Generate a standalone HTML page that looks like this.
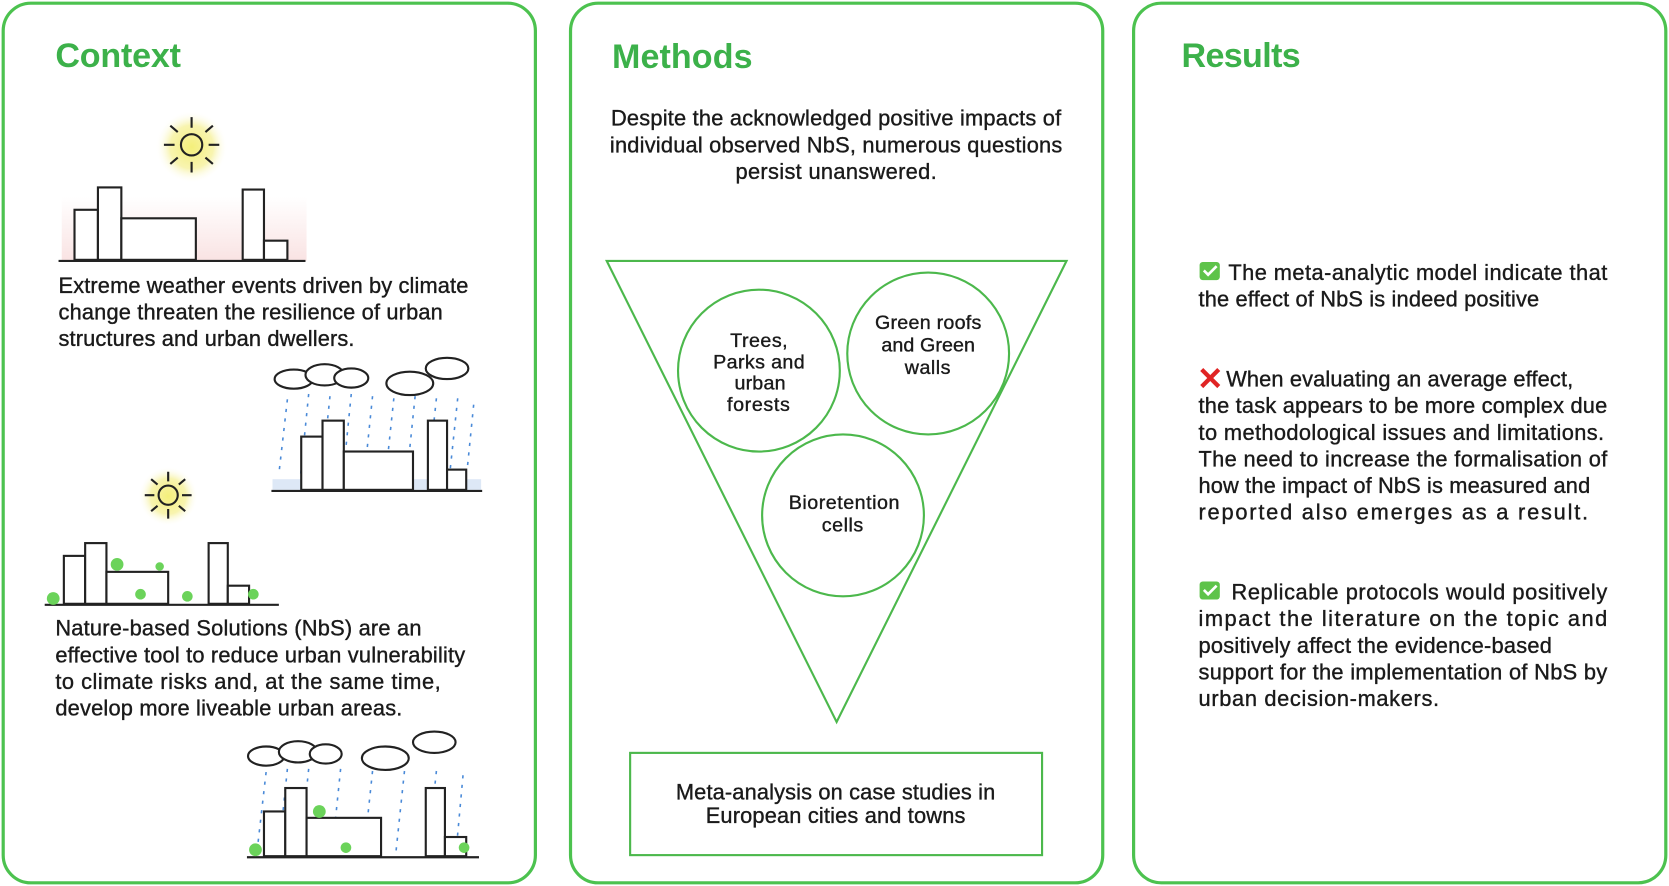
<!DOCTYPE html>
<html><head><meta charset="utf-8"><style>
html,body{margin:0;padding:0;background:#fff;}
svg{display:block;}
text{font-family:"Liberation Sans",Arial,sans-serif;fill:#1a1a1a;stroke:#1a1a1a;stroke-width:0.35;}
.t{font-size:20.5px;}
.h{font-size:32px;fill:#3cb14a;stroke:none;font-weight:bold;}
.c{font-size:18.5px;}
</style></head><body>
<svg width="1669" height="886" viewBox="0 0 1568 832" preserveAspectRatio="none" xmlns="http://www.w3.org/2000/svg">
<defs>
<radialGradient id="sun"><stop offset="0" stop-color="#f4ef7a"/><stop offset="0.6" stop-color="#f8f4b0"/><stop offset="1" stop-color="#fff" stop-opacity="0"/></radialGradient>
<linearGradient id="heat" x1="0" y1="0" x2="0" y2="1"><stop offset="0" stop-color="#fff"/><stop offset="1" stop-color="#f7d7d7"/></linearGradient>
</defs>
<g fill="none" stroke="#4cc24f" stroke-width="3">
<rect x="3" y="3" width="500" height="826" rx="26"/>
<rect x="536" y="3" width="500" height="826" rx="26"/>
<rect x="1065" y="3" width="500" height="826" rx="26"/>
</g>
<text class="h" x="52" y="63" textLength="118">Context</text>
<text class="h" x="575" y="64" textLength="132">Methods</text>
<text class="h" x="1110" y="63" textLength="112">Results</text>

<circle cx="180" cy="138" r="34" fill="url(#sun)"/>
<g stroke="#222" stroke-width="2" fill="none">
<circle cx="180" cy="136" r="10"/>
<path d="M180 110v10M180 152v10M154 136h10M196 136h10M160 118l7 6M200 118l-7 6M160 154l7-6M200 154l-7-6"/>
</g>
<rect x="58" y="185" width="230" height="60" fill="url(#heat)" opacity="0.7"/>
<g stroke="#222" stroke-width="2" fill="#fff">
<rect x="70" y="197" width="22" height="47"/><rect x="92" y="176" width="22" height="68"/>
<rect x="114" y="205" width="70" height="39"/><rect x="228" y="178" width="20" height="66"/><rect x="248" y="226" width="22" height="18"/>
<path d="M55 245h232" fill="none"/>
</g>
<g class="t">
<text x="55" y="275" textLength="385">Extreme weather events driven by climate</text>
<text x="55" y="300" textLength="361">change threaten the resilience of urban</text>
<text x="55" y="325" textLength="278">structures and urban dwellers.</text>
</g>

<g stroke="#222" stroke-width="2" fill="#fff">
<ellipse cx="276" cy="356" rx="18" ry="9"/><ellipse cx="305" cy="352" rx="18" ry="10"/><ellipse cx="330" cy="355" rx="16" ry="9"/>
<ellipse cx="385" cy="360" rx="22" ry="11"/><ellipse cx="420" cy="346" rx="20" ry="10"/>
</g>
<g stroke="#4a8ad8" stroke-width="1.5" stroke-dasharray="3 6">
<path d="M270 375l-8 70M290 370l-8 80M310 372l-8 78M330 370l-8 80M350 372l-8 78M370 374l-8 76M390 372l-8 78M410 374l-8 76M430 374l-8 76M445 380l-6 60"/>
</g>
<rect x="256" y="450" width="196" height="10" fill="#dde8f6"/>
<g stroke="#222" stroke-width="2" fill="#fff">
<rect x="283" y="410" width="20" height="50"/><rect x="303" y="395" width="20" height="65"/><rect x="323" y="424" width="65" height="36"/>
<rect x="402" y="395" width="18" height="65"/><rect x="420" y="441" width="18" height="19"/><path d="M255 461h198" fill="none"/>
</g>

<circle cx="158" cy="466" r="28" fill="url(#sun)"/>
<g stroke="#222" stroke-width="2" fill="none">
<circle cx="158" cy="465" r="9"/><path d="M158 443v9M158 478v9M136 465h9M171 465h9M142 450l6 5M174 450l-6 5M142 480l6-5M174 480l-6-5"/>
</g>
<g stroke="#222" stroke-width="2" fill="#fff">
<rect x="60" y="522" width="20" height="45"/><rect x="80" y="510" width="20" height="57"/><rect x="100" y="537" width="58" height="30"/>
<rect x="196" y="510" width="18" height="57"/><rect x="214" y="550" width="20" height="17"/><path d="M42 568h220" fill="none"/>
</g>
<g fill="#6bd35a"><circle cx="50" cy="562" r="6"/><circle cx="110" cy="530" r="6"/><circle cx="132" cy="558" r="5"/><circle cx="176" cy="560" r="5"/><circle cx="238" cy="558" r="5"/><circle cx="150" cy="532" r="4"/></g>
<g class="t">
<text x="52" y="597" textLength="344">Nature-based Solutions (NbS) are an</text>
<text x="52" y="622" textLength="385">effective tool to reduce urban vulnerability</text>
<text x="52" y="647" textLength="362">to climate risks and, at the same time,</text>
<text x="52" y="672" textLength="326">develop more liveable urban areas.</text>
</g>

<g stroke="#222" stroke-width="2" fill="#fff">
<ellipse cx="250" cy="710" rx="17" ry="9"/><ellipse cx="280" cy="706" rx="18" ry="10"/><ellipse cx="306" cy="708" rx="15" ry="9"/>
<ellipse cx="362" cy="712" rx="22" ry="11"/><ellipse cx="408" cy="697" rx="20" ry="10"/>
</g>
<g stroke="#4a8ad8" stroke-width="1.5" stroke-dasharray="3 6">
<path d="M250 725l-8 70M270 722l-8 78M290 722l-8 78M320 722l-8 78M350 724l-8 76M380 724l-8 76M410 724l-8 76M435 728l-6 66"/>
</g>
<g stroke="#222" stroke-width="2" fill="#fff">
<rect x="248" y="762" width="20" height="42"/><rect x="268" y="740" width="20" height="64"/><rect x="288" y="768" width="70" height="36"/>
<rect x="400" y="740" width="18" height="64"/><rect x="418" y="786" width="20" height="18"/><path d="M232 805h218" fill="none"/>
</g>
<g fill="#6bd35a"><circle cx="240" cy="798" r="6"/><circle cx="300" cy="762" r="6"/><circle cx="325" cy="796" r="5"/><circle cx="436" cy="796" r="5"/></g>

<g class="t">
<text x="574" y="118" textLength="423">Despite the acknowledged positive impacts of</text>
<text x="573" y="143" textLength="425">individual observed NbS, numerous questions</text>
<text x="691" y="168" textLength="189">persist unanswered.</text>
</g>
<g fill="none" stroke="#4cb84c" stroke-width="2">
<path d="M570 245H1002L786 678Z"/>
<circle cx="713" cy="348" r="76"/><circle cx="872" cy="332" r="76"/><circle cx="792" cy="484" r="76"/>
<rect x="592" y="707" width="387" height="96"/>
</g>
<g class="c">
<text x="686" y="326" textLength="54">Trees,</text><text x="670" y="346" textLength="86">Parks and</text><text x="690" y="366" textLength="48">urban</text><text x="683" y="386" textLength="59">forests</text>
<text x="822" y="309" textLength="100">Green roofs</text><text x="828" y="330" textLength="88">and Green</text><text x="850" y="351" textLength="43">walls</text>
<text x="741" y="478" textLength="104">Bioretention</text><text x="772" y="499" textLength="39">cells</text>
</g>
<g class="t">
<text x="635" y="751" textLength="300">Meta-analysis on case studies in</text>
<text x="663" y="773" textLength="244">European cities and towns</text>
</g>

<g>
<rect x="1127" y="246" width="19" height="17" rx="3" fill="#5ec34a"/><path d="M1131 254l4 4 8-8" stroke="#fff" stroke-width="2.5" fill="none"/>
<rect x="1127" y="546" width="19" height="17" rx="3" fill="#5ec34a"/><path d="M1131 554l4 4 8-8" stroke="#fff" stroke-width="2.5" fill="none"/>
<path d="M1129 347l16 16M1145 347l-16 16" stroke="#e02424" stroke-width="4"/>
</g>
<g class="t">
<text x="1154" y="263" textLength="356">The meta-analytic model indicate that</text>
<text x="1126" y="288" textLength="320">the effect of NbS is indeed positive</text>
<text x="1152" y="363" textLength="326">When evaluating an average effect,</text>
<text x="1126" y="388" textLength="384">the task appears to be more complex due</text>
<text x="1126" y="413" textLength="381">to methodological issues and limitations.</text>
<text x="1126" y="438" textLength="384">The need to increase the formalisation of</text>
<text x="1126" y="463" textLength="368">how the impact of NbS is measured and</text>
<text x="1126" y="488" textLength="366">reported also emerges as a result.</text>
<text x="1157" y="563" textLength="353">Replicable protocols would positively</text>
<text x="1126" y="588" textLength="384">impact the literature on the topic and</text>
<text x="1126" y="613" textLength="332">positively affect the evidence-based</text>
<text x="1126" y="638" textLength="384">support for the implementation of NbS by</text>
<text x="1126" y="663" textLength="226">urban decision-makers.</text>
</g>
</svg>
</body></html>
